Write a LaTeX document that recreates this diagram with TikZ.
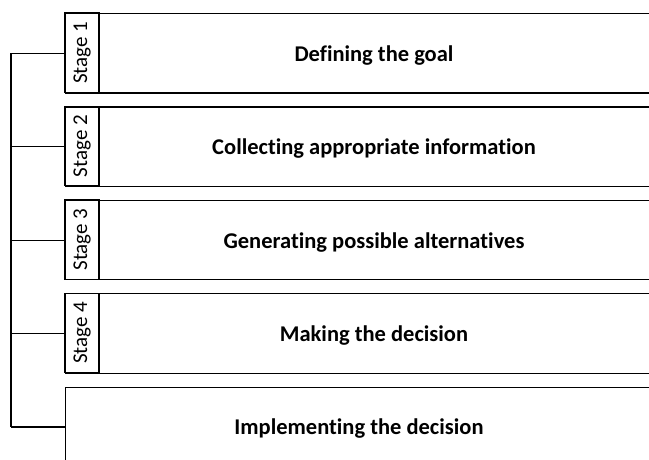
\documentclass[tikz,border=0pt]{standalone}
\usepackage{fontspec}
\setmainfont{Carlito}[Ligatures={NoCommon,NoRare,NoContextual}]
\begin{document}
\begin{tikzpicture}[x=1pt,y=-1pt,
  frame/.style={draw=black, line width=1.2pt},
  panel/.style={frame, rectangle, anchor=north west, minimum width=620pt,
    minimum height=79.4pt, inner sep=0pt},
  stagebox/.style={frame, rectangle, rotate=90, minimum width=79.4pt,
    minimum height=34pt, inner sep=0pt, font=\fontsize{21}{25}\selectfont},
  title/.style={font=\bfseries\fontsize{22.5}{27}\selectfont, inner sep=0pt},
  link/.style={draw=black, line width=1.2pt}
]
\clip (0,0) rectangle (649,460);
\fill[white] (0,0) rectangle (649,460);
\coordinate (trunk) at (11,0);

% panels, their stage tabs and titles
\foreach \i/\y/\t in {1/13/{Defining the goal},
                      2/106.4/{Collecting appropriate information},
                      3/199.8/{Generating possible alternatives},
                      4/293.2/{Making the decision}}{
  \node[panel] (p\i) at (65,\y) {};
  \node[stagebox] (s\i) at (82,\y+39.7) {Stage \i};
  \node[title] (t\i) at (374,\y+42.5) {\t};
}
\node[panel] (p5) at (65,386.6) {};
\node[title] (t5) at (359,429) {Implementing the decision};

% tree connectors
\draw[link] (p1.west -| trunk) -- (p5.west -| trunk);
\foreach \i in {1,...,5}{
  \draw[link] (p\i.west) -- (p\i.west -| trunk);
}
\end{tikzpicture}
\end{document}
